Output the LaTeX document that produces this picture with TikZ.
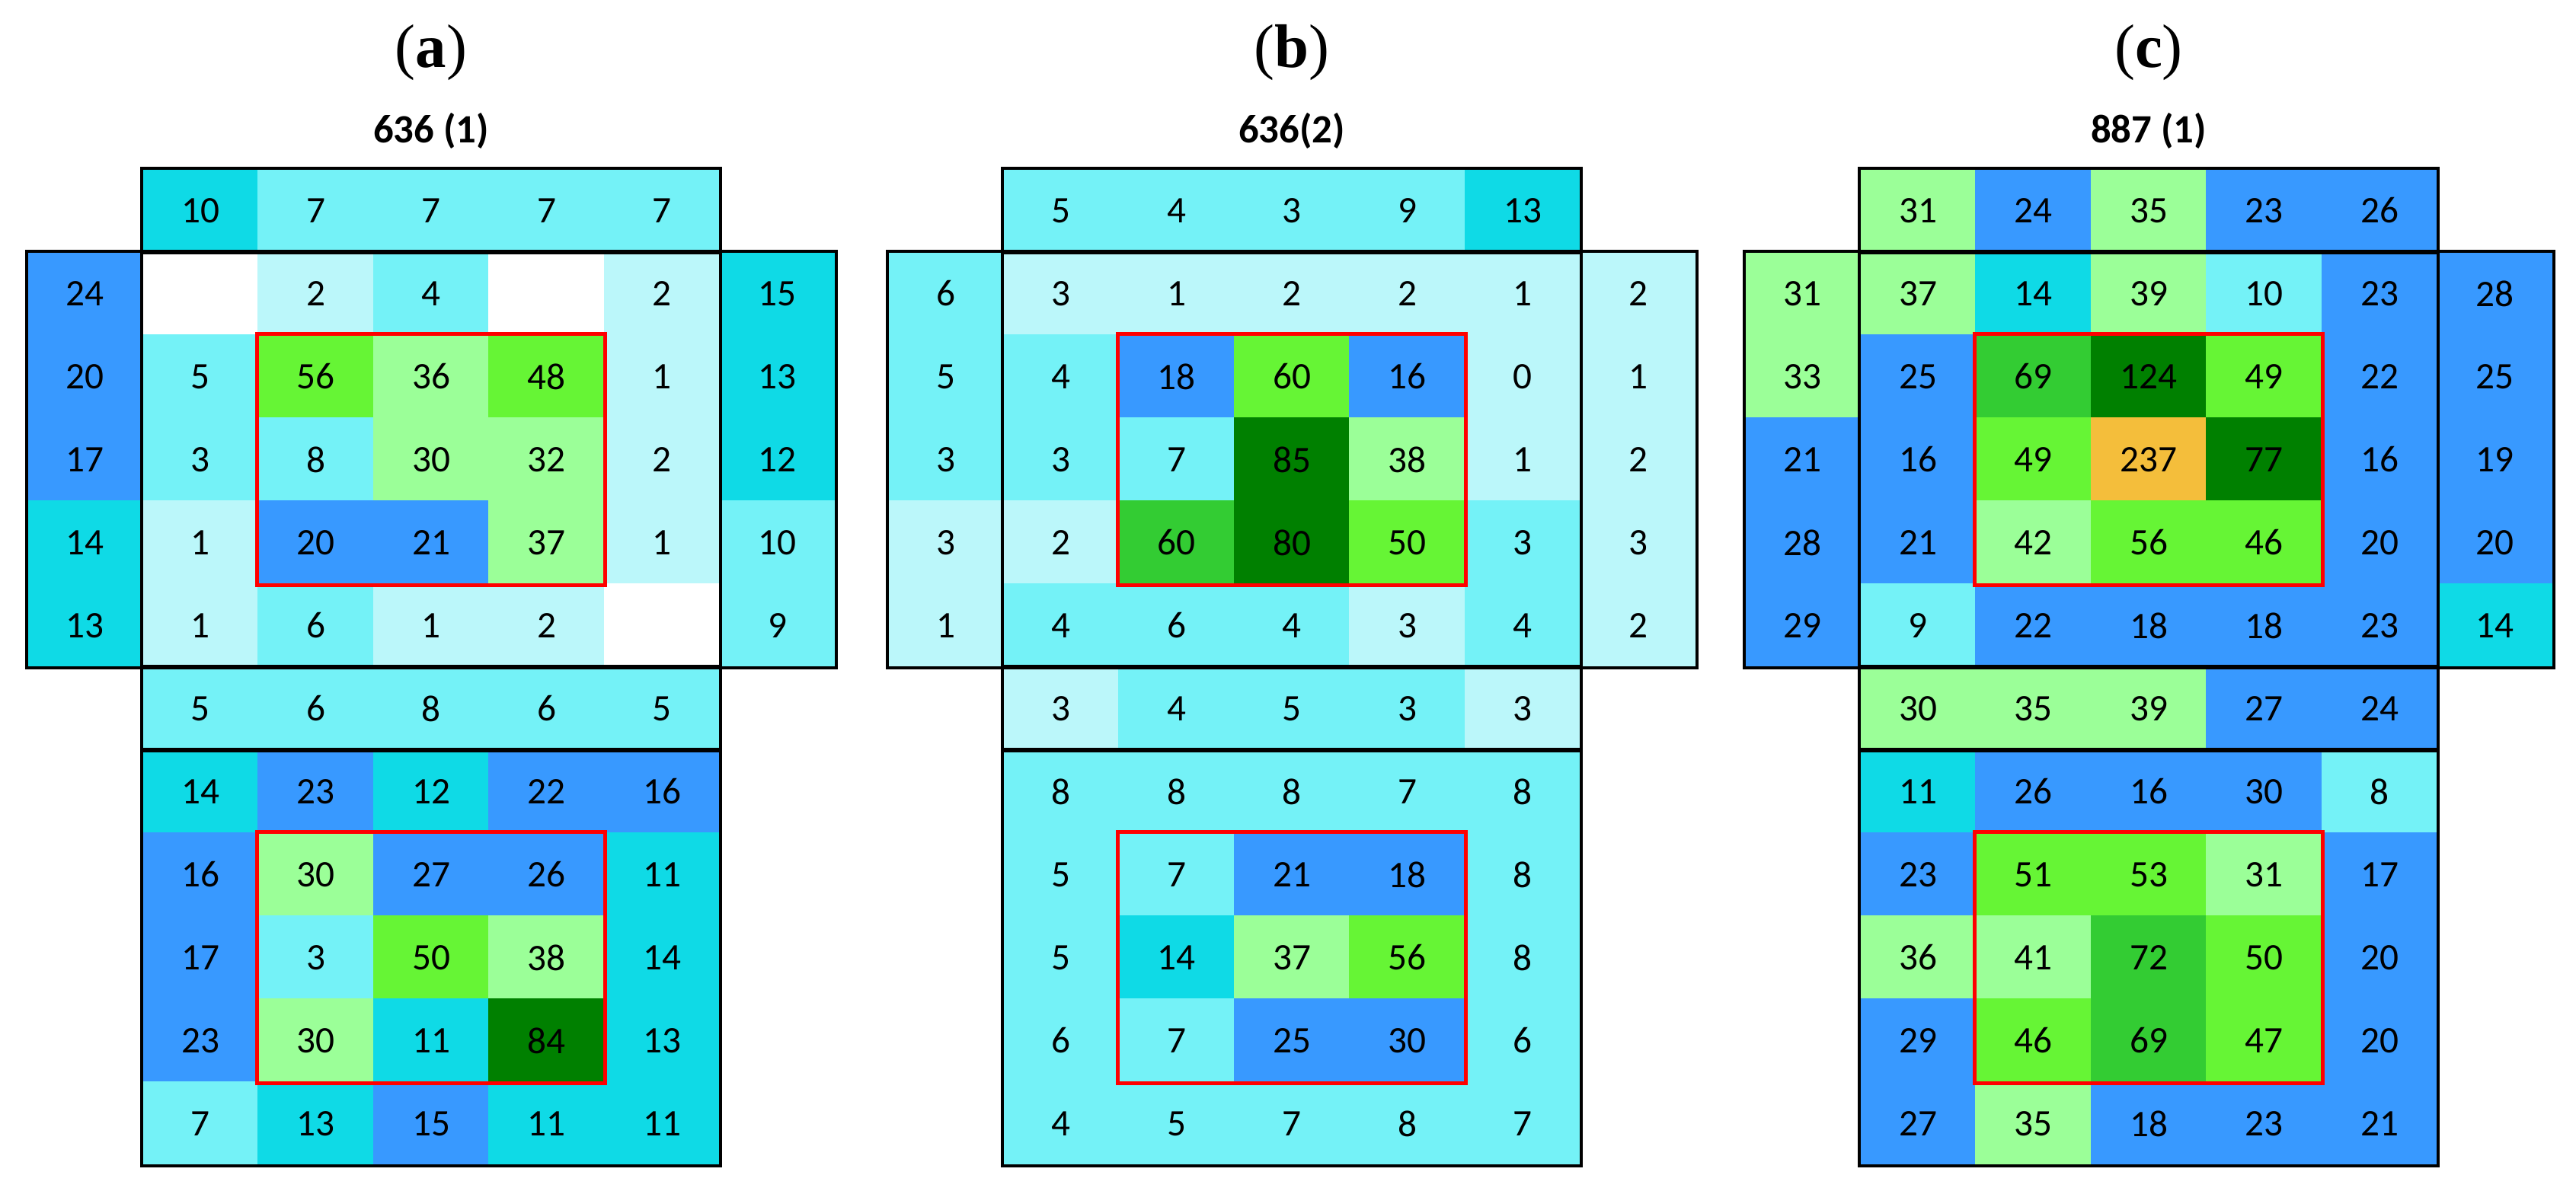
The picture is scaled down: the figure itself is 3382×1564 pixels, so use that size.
\documentclass[tikz,border=0pt]{standalone}
\usepackage{fontspec}
\setmainfont{Carlito}
\newfontfamily\capfont{Liberation Serif}
\usepackage{tikz}
\usetikzlibrary{positioning}

% --- Colour scale of the counts ---
\definecolor{cW}{HTML}{FFFFFF}
\definecolor{cP}{HTML}{BBF7FA}
\definecolor{cC}{HTML}{74F2F7}
\definecolor{cD}{HTML}{0FDAE6}
\definecolor{cB}{HTML}{3899FF}
\definecolor{cL}{HTML}{9BFF98}
\definecolor{cG}{HTML}{66F535}
\definecolor{cM}{HTML}{33CC33}
\definecolor{cK}{HTML}{008000}
\definecolor{cO}{HTML}{F4BE3B}

\tikzset{
  cell/.style={draw=none, minimum width=1.525cm, minimum height=1.10cm,
    inner sep=0pt, font=\fontsize{14}{16}\selectfont},
  frame/.style={draw=black, line width=1.1pt},
  box/.style={draw=red, line width=1.4pt},
}

% one row of cells: #1 name prefix, #2 x of first cell centre, #3 y, #4 list
\newcommand{\cellrow}[4]{%
  \foreach \v/\c [count=\k] in #4
    \node[cell, fill=c\c] (#1-\k) at (#2+\k*151.5-151.5, #3) {\v};%
}

% one panel: #1 id, #2 left x, #3 letter, #4 title, #5 top row,
% #6 middle rows, #7 lower row, #8 bottom rows
\newcommand{\panel}[8]{%
  \node[font=\capfont\fontsize{23}{26}\selectfont] (#1-cap) at (#2+530, 69) {(\textbf{#3})};
  \node[font=\bfseries\fontsize{15}{18}\selectfont] (#1-title) at (#2+530, 172) {#4};
  \cellrow{#1-t}{#2+227.25}{276.5}{{#5}}
  \foreach \row [count=\r] in {#6}
    \cellrow{#1-m\r}{#2+75.75}{331+\r*109-54.5}{\row};
  \cellrow{#1-u}{#2+227.25}{930.5}{{#7}}
  \foreach \row [count=\r] in {#8}
    \cellrow{#1-b\r}{#2+227.25}{985+\r*109-54.5}{\row};
  % frames
  \draw[frame] (#1-t-1.north west) rectangle (#1-t-5.south east);
  \draw[frame] (#1-m1-1.north west) rectangle (#1-m5-7.south east);
  \draw[frame] (#1-m1-2.north west) -- (#1-m5-2.south west);
  \draw[frame] (#1-m1-6.north east) -- (#1-m5-6.south east);
  \draw[frame] (#1-u-1.north west) rectangle (#1-u-5.south east);
  \draw[frame] (#1-b1-1.north west) rectangle (#1-b5-5.south east);
  % core windows
  \draw[box] (#1-m2-3.north west) rectangle (#1-m4-5.south east);
  \draw[box] (#1-b2-2.north west) rectangle (#1-b4-4.south east);
}

\begin{document}
\begin{tikzpicture}[x=0.01cm, y=-0.01cm]
  \useasboundingbox (0,0) rectangle (3382,1564);

  % --- (a) ---
  \panel{a}{36}{a}{636 (1)}
    {10/D,7/C,7/C,7/C,7/C}
    {{24/B,/W,2/P,4/C,/W,2/P,15/D},
     {20/B,5/C,56/G,36/L,48/G,1/P,13/D},
     {17/B,3/C,8/C,30/L,32/L,2/P,12/D},
     {14/D,1/P,20/B,21/B,37/L,1/P,10/C},
     {13/D,1/P,6/C,1/P,2/P,/W,9/C}}
    {5/C,6/C,8/C,6/C,5/C}
    {{14/D,23/B,12/D,22/B,16/B},
     {16/B,30/L,27/B,26/B,11/D},
     {17/B,3/C,50/G,38/L,14/D},
     {23/B,30/L,11/D,84/K,13/D},
     {7/C,13/D,15/B,11/D,11/D}}

  % --- (b) ---
  \panel{b}{1166}{b}{636(2)}
    {5/C,4/C,3/C,9/C,13/D}
    {{6/C,3/P,1/P,2/P,2/P,1/P,2/P},
     {5/C,4/C,18/B,60/G,16/B,0/P,1/P},
     {3/C,3/C,7/C,85/K,38/L,1/P,2/P},
     {3/P,2/P,60/M,80/K,50/G,3/C,3/P},
     {1/P,4/C,6/C,4/C,3/P,4/C,2/P}}
    {3/P,4/C,5/C,3/C,3/P}
    {{8/C,8/C,8/C,7/C,8/C},
     {5/C,7/C,21/B,18/B,8/C},
     {5/C,14/D,37/L,56/G,8/C},
     {6/C,7/C,25/B,30/B,6/C},
     {4/C,5/C,7/C,8/C,7/C}}

  % --- (c) ---
  \panel{c}{2291}{c}{887 (1)}
    {31/L,24/B,35/L,23/B,26/B}
    {{31/L,37/L,14/D,39/L,10/C,23/B,28/B},
     {33/L,25/B,69/M,124/K,49/G,22/B,25/B},
     {21/B,16/B,49/G,237/O,77/K,16/B,19/B},
     {28/B,21/B,42/L,56/G,46/G,20/B,20/B},
     {29/B,9/C,22/B,18/B,18/B,23/B,14/D}}
    {30/L,35/L,39/L,27/B,24/B}
    {{11/D,26/B,16/B,30/B,8/C},
     {23/B,51/G,53/G,31/L,17/B},
     {36/L,41/L,72/M,50/G,20/B},
     {29/B,46/G,69/M,47/G,20/B},
     {27/B,35/L,18/B,23/B,21/B}}
\end{tikzpicture}
\end{document}
